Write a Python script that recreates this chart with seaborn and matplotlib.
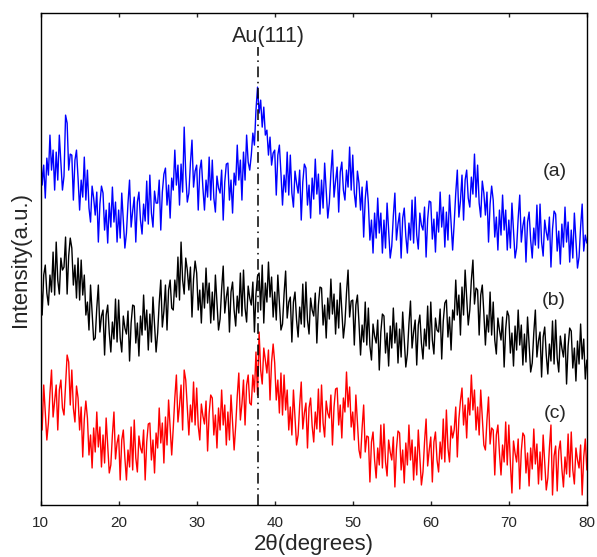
import numpy as np
import pandas as pd
import matplotlib
matplotlib.use("Agg")
import matplotlib.pyplot as plt
import seaborn as sns

# 2-theta grid (degrees), 0.2 deg step from 10 to 80 (351 samples)
two_theta = np.round(np.linspace(10.0, 80.0, 351), 2)

# intensities (a.u.), 5 samples per degree
curve_a = [
    357, 320, 340, 307, 347,  330, 370, 335, 355, 315,  353, 325, 370, 343, 315,
    329, 390, 382, 335, 351,  350, 305, 345, 355, 327,  295, 325, 308, 348, 305,
    335, 297, 283, 319, 307,  290, 313, 263, 301, 319,  312, 275, 295, 262, 302,
    278, 318, 283, 303, 263,  295, 267, 312, 285, 257,  272, 302, 325, 278, 294,
    308, 263, 303, 313, 285,  271, 301, 284, 324, 281,  330, 292, 278, 314, 302,
    302, 325, 275, 313, 331,  337, 300, 320, 287, 327,  315, 355, 320, 340, 300,
    341, 313, 378, 331, 303,  312, 342, 365, 318, 334,  340, 295, 335, 345, 317,
    295, 325, 308, 348, 305,  345, 307, 293, 329, 317,  312, 335, 285, 323, 341,
    342, 305, 325, 292, 332,  320, 360, 325, 345, 305,  353, 325, 370, 343, 335,
    350, 372, 360, 395, 418,  392, 405, 378, 398, 370,  375, 350, 368, 340, 352,
    355, 310, 350, 360, 332,  300, 330, 313, 353, 310,  350, 312, 298, 334, 322,
    312, 335, 285, 323, 341,  337, 300, 320, 287, 327,  306, 346, 311, 331, 291,
    325, 297, 342, 315, 287,  302, 332, 355, 308, 324,  338, 293, 333, 343, 315,
    305, 335, 318, 358, 315,  350, 312, 298, 334, 322,  295, 318, 268, 306, 324,
    302, 265, 285, 252, 292,  267, 307, 272, 292, 252,  285, 257, 302, 275, 247,
    259, 289, 312, 265, 281,  292, 247, 287, 297, 269,  252, 282, 265, 305, 262,
    308, 270, 256, 292, 280,  275, 298, 248, 286, 304,  303, 266, 286, 253, 293,
    273, 313, 278, 298, 258,  293, 265, 310, 283, 255,  282, 312, 335, 288, 304,
    330, 285, 325, 335, 307,  298, 328, 311, 351, 308,  340, 302, 288, 324, 312,
    290, 313, 263, 301, 319,  305, 268, 288, 255, 295,  270, 310, 275, 295, 255,
    285, 257, 302, 275, 247,  257, 287, 310, 263, 279,  288, 243, 283, 293, 265,
    247, 277, 260, 300, 257,  301, 263, 249, 285, 273,  265, 288, 238, 276, 294,
    291, 254, 274, 241, 281,  258, 298, 263, 283, 243,  275, 247, 292, 265, 237,
    248, 278, 301, 254, 270,  262,
]

curve_b = [
    235, 190, 230, 240, 212,  200, 230, 213, 253, 210,  263, 225, 211, 247, 235,
    238, 268, 211, 249, 267,  257, 220, 240, 207, 247,  205, 245, 210, 230, 190,
    203, 175, 220, 193, 165,  167, 197, 220, 173, 189,  195, 150, 190, 200, 172,
    153, 183, 166, 206, 163,  205, 167, 153, 189, 177,  171, 194, 144, 182, 200,
    199, 162, 182, 149, 189,  170, 210, 175, 195, 155,  191, 163, 208, 181, 153,
    172, 202, 225, 178, 194,  220, 175, 215, 225, 197,  195, 225, 208, 248, 205,
    263, 225, 211, 247, 235,  215, 238, 188, 226, 244,  232, 195, 215, 182, 222,
    197, 237, 202, 222, 182,  213, 185, 230, 203, 175,  186, 216, 239, 192, 208,
    218, 173, 213, 223, 195,  179, 209, 192, 232, 189,  235, 197, 183, 219, 207,
    200, 223, 173, 211, 229,  232, 195, 240, 182, 222,  203, 243, 208, 228, 188,
    213, 185, 230, 203, 175,  181, 211, 234, 187, 203,  208, 163, 203, 213, 185,
    168, 198, 181, 221, 178,  223, 185, 171, 207, 195,  189, 212, 162, 200, 218,
    217, 180, 200, 167, 207,  186, 226, 191, 211, 171,  205, 177, 222, 195, 167,
    182, 212, 235, 188, 204,  205, 160, 200, 210, 182,  150, 180, 163, 203, 160,
    197, 159, 145, 181, 169,  162, 185, 135, 173, 191,  189, 152, 172, 139, 179,
    157, 197, 162, 182, 142,  176, 148, 193, 166, 138,  151, 181, 204, 157, 173,
    185, 140, 180, 190, 162,  146, 176, 159, 199, 156,  203, 165, 151, 187, 175,
    173, 196, 146, 184, 202,  205, 168, 188, 155, 195,  185, 225, 190, 210, 170,
    218, 190, 235, 208, 180,  195, 225, 245, 201, 217,  215, 170, 210, 220, 192,
    160, 190, 173, 213, 170,  203, 165, 151, 187, 175,  165, 188, 138, 176, 194,
    189, 152, 172, 139, 179,  155, 195, 160, 180, 140,  171, 143, 188, 161, 133,
    142, 172, 195, 148, 164,  173, 128, 168, 178, 150,  131, 161, 144, 184, 141,
    185, 147, 133, 169, 157,  148, 171, 121, 159, 177,  174, 137, 157, 124, 164,
    141, 181, 146, 166, 126,  145,
]

curve_c = [
    103, 75, 120, 93, 65,  82, 112, 135, 88, 104,  120, 75, 115, 125, 97,
    90, 120, 150, 143, 100,  135, 97, 83, 119, 107,  75, 98, 48, 86, 104,
    87, 50, 70, 37, 77,  53, 93, 58, 78, 38,  70, 42, 87, 60, 32,
    40, 70, 93, 46, 62,  70, 25, 65, 75, 47,  25, 55, 38, 78, 35,
    85, 47, 33, 69, 57,  52, 75, 25, 63, 81,  82, 45, 65, 32, 72,
    57, 97, 62, 82, 42,  88, 60, 105, 78, 50,  77, 107, 130, 83, 99,
    120, 75, 135, 125, 97,  70, 100, 83, 123, 80,  117, 79, 65, 101, 89,
    81, 104, 54, 92, 110,  107, 70, 90, 57, 97,  75, 115, 80, 100, 60,
    93, 65, 110, 83, 55,  79, 109, 132, 85, 101,  125, 80, 120, 130, 102,
    100, 130, 113, 153, 110,  173, 135, 121, 157, 145,  132, 155, 105, 143, 161,
    142, 105, 125, 92, 132,  90, 130, 95, 115, 75,  98, 70, 115, 88, 60,
    70, 100, 123, 76, 92,  102, 57, 97, 107, 79,  63, 93, 76, 116, 73,
    120, 82, 68, 104, 92,  87, 110, 60, 98, 116,  117, 80, 100, 67, 107,
    93, 133, 98, 118, 78,  93, 65, 110, 83, 55,  47, 77, 100, 53, 69,
    68, 23, 63, 73, 45,  27, 57, 40, 80, 37,  81, 43, 29, 65, 53,
    45, 68, 18, 56, 74,  72, 35, 55, 22, 62,  40, 80, 45, 65, 25,
    58, 30, 75, 48, 20,  33, 63, 86, 39, 55,  68, 23, 63, 73, 45,
    33, 63, 46, 86, 43,  95, 57, 43, 79, 67,  75, 98, 48, 86, 104,
    117, 80, 100, 67, 107,  90, 130, 95, 115, 75,  98, 70, 115, 88, 60,
    55, 85, 108, 61, 77,  75, 30, 70, 80, 52,  30, 60, 43, 83, 40,
    80, 42, 12, 64, 52,  43, 66, 16, 54, 72,  69, 32, 52, 19, 57,
    36, 76, 41, 61, 21,  53, 25, 70, 43, 15,  27, 57, 80, 10, 49,
    59, 14, 54, 64, 36,  18, 48, 31, 71, 28,  73, 35, 21, 57, 45,
    37, 60, 10, 48, 66,  35,
]

series_names = ["(a)", "(b)", "(c)"]
series_colors = ["#0000ff", "#000000", "#ff0000"]
peak_label = "Au(111)"
peak_pos = 37.9
x_ticks = [10, 20, 30, 40, 50, 60, 70, 80]

sns.set_style("white")
plt.rcParams["font.family"] = ["Liberation Sans", "DejaVu Sans"]

df = pd.DataFrame({
    "two_theta": np.concatenate([two_theta] * 3),
    "intensity": np.concatenate([curve_a, curve_b, curve_c]),
    "sample": np.repeat(series_names, len(two_theta)),
})

fig = plt.figure(figsize=(5.97, 5.57), dpi=100)
ax = fig.add_axes([0.068, 0.0934, 0.915, 0.883])

sns.lineplot(data=df, x="two_theta", y="intensity", hue="sample",
             palette=dict(zip(series_names, series_colors)),
             linewidth=1.0, ax=ax, legend=False, sort=False, estimator=None)

ax.plot([peak_pos, peak_pos], [0, 458], color="black", linewidth=1.1,
        linestyle=(0, (7, 3, 1, 3)))
ax.text(peak_pos + 1.3, 469, peak_label, ha="center", va="center", fontsize=15.5)

label_pos = [(75.9, 334), (75.7, 205), (75.9, 92)]
for name, (lx, ly) in zip(series_names, label_pos):
    ax.text(lx, ly, name, ha="center", va="center", fontsize=14)

ax.set_xlim(10, 80)
ax.set_ylim(0, 492)
ax.set_xticks(x_ticks)
ax.set_xticklabels([str(t) for t in x_ticks], fontsize=11)
ax.set_yticks([])
ax.tick_params(axis="x", direction="in", length=3, width=1, top=True, bottom=True, pad=8)
for sp in ax.spines.values():
    sp.set_visible(True)
    sp.set_color("black")
    sp.set_linewidth(1.0)

ax.set_xlabel("2θ(degrees)", fontsize=16, labelpad=3)
ax.set_ylabel("Intensity(a.u.)", fontsize=16, labelpad=7)

fig.savefig("out.png", dpi=100)
